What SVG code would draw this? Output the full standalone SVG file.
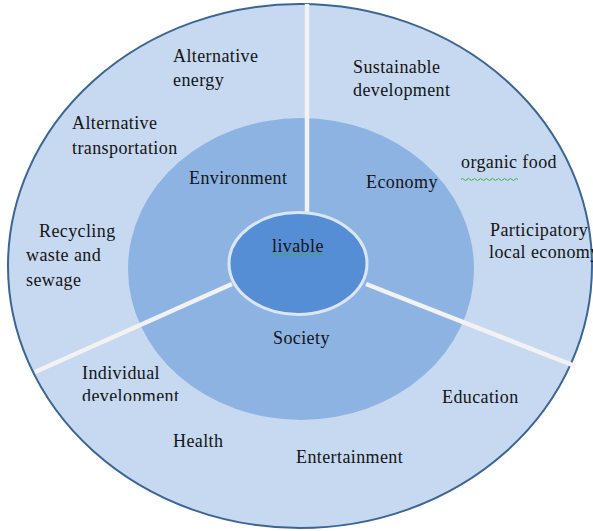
<svg xmlns="http://www.w3.org/2000/svg" width="593" height="531" viewBox="0 0 593 531">
<style>
.t{font-family:"Liberation Serif","Times New Roman",serif;font-size:18px;letter-spacing:0.4px;fill:#141414}
.div{stroke:#f2f2f2;stroke-width:4.5;fill:none}
.wave{stroke:#3cb043;stroke-width:1;fill:none}
</style>
<defs>
<clipPath id="clipDev"><rect x="0" y="0" width="593" height="401"/></clipPath>
</defs>
<rect width="593" height="531" fill="#ffffff"/>
<g id="outer-ring">
<ellipse cx="300" cy="266" rx="292" ry="262" fill="#c6d9f0" stroke="#3b6594" stroke-width="2"/>
</g>
<g id="middle-ring">
<ellipse cx="301" cy="269" rx="173" ry="151" fill="#8db3e2"/>
</g>
<g id="connectors">
<line class="div" x1="307" y1="4" x2="307" y2="214"/>
<line class="div" x1="232" y1="284" x2="35" y2="372"/>
<line class="div" x1="366" y1="284" x2="575" y2="366"/>
</g>
<g id="core">
<ellipse cx="298" cy="263.5" rx="69" ry="51" fill="#558ed5" stroke="#dce6f2" stroke-width="3"/>
<text class="t" x="272" y="251.5">livable</text>
<path class="wave" d="M272 254.5 q1.5 -2 3 0 t3 0 t3 0 t3 0 t3 0 t3 0 t3 0 t3 0 t3 0 t3 0 t3 0 t3 0 t3 0 t3 0 t3 0 t3 0 t3 0"/>
</g>
<g id="environment">
<text class="t" x="189" y="184">Environment</text>
<text class="t" x="173" y="62">Alternative</text>
<text class="t" x="173" y="86">energy</text>
<text class="t" x="72" y="129">Alternative</text>
<text class="t" x="72" y="154">transportation</text>
<text class="t" x="39" y="237">Recycling</text>
<text class="t" x="26" y="261">waste and</text>
<text class="t" x="26" y="286">sewage</text>
</g>
<g id="economy">
<text class="t" x="366" y="188">Economy</text>
<text class="t" x="353" y="73">Sustainable</text>
<text class="t" x="353" y="96">development</text>
<text class="t" x="461" y="168">organic food</text>
<path class="wave" d="M461 179.5 q1.5 -2 3 0 t3 0 t3 0 t3 0 t3 0 t3 0 t3 0 t3 0 t3 0 t3 0 t3 0 t3 0 t3 0 t3 0 t3 0 t3 0 t3 0 t3 0 t3 0"/>
<text class="t" x="490" y="236">Participatory</text>
<text class="t" x="489" y="258">local economy</text>
</g>
<g id="society">
<text class="t" x="273" y="344">Society</text>
<text class="t" x="82" y="379">Individual</text>
<text class="t" x="82" y="402" clip-path="url(#clipDev)">development</text>
<text class="t" x="173" y="447">Health</text>
<text class="t" x="296" y="463">Entertainment</text>
<text class="t" x="442" y="403">Education</text>
</g>
</svg>
